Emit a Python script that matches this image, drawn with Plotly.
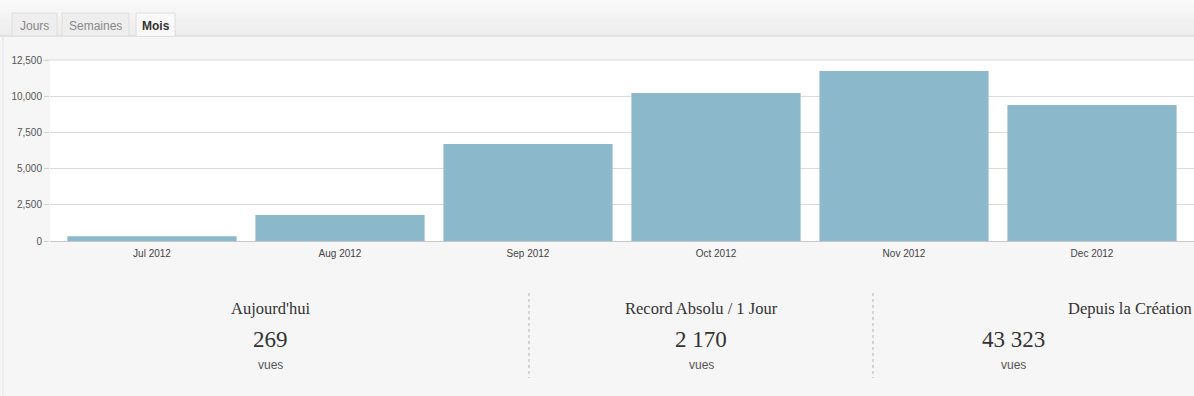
import plotly.graph_objects as go

months = ["Jul 2012", "Aug 2012", "Sep 2012", "Oct 2012", "Nov 2012", "Dec 2012"]
views = [330, 1800, 6700, 10220, 11740, 9390]
y_ticks = [0, 2500, 5000, 7500, 10000, 12500]
y_tick_labels = ["0", "2,500", "5,000", "7,500", "10,000", "12,500"]
tabs = ["Jours", "Semaines", "Mois"]
stat_titles = ["Aujourd'hui", "Record Absolu / 1 Jour", "Depuis la Création"]
stat_values = ["269", "2 170", "43 323"]
stat_unit = "vues"

W, H = 1194, 396
L, R, T, B = 50, 0, 60, 155
PW, PH = W - L - R, H - T - B


def px(x):
    return (x - L) / PW


def py(y):
    return (H - B - y) / PH


fig = go.Figure()
fig.add_trace(go.Bar(
    x=list(range(len(months))), y=views,
    marker=dict(color="#8cb8cc", line=dict(width=0)),
    width=0.9, hoverinfo="skip",
))

shapes = []
# header gradient band
steps = 12
for i in range(steps):
    c = int(250 - (i / (steps - 1)) * 13)
    shapes.append(dict(type="rect", xref="paper", yref="paper",
                       x0=px(0), x1=px(W), y0=py(i * 36 / steps), y1=py((i + 1) * 36 / steps),
                       fillcolor=f"rgb({c},{c},{c})", line=dict(width=0), layer="below"))
shapes.append(dict(type="line", xref="paper", yref="paper", x0=px(0), x1=px(W),
                   y0=py(36), y1=py(36), line=dict(color="#d2d2d2", width=1)))
# left border of panel
shapes.append(dict(type="line", xref="paper", yref="paper", x0=px(3), x1=px(3),
                   y0=py(37), y1=py(H), line=dict(color="#e2e2e2", width=1)))
# top gridline of plot
shapes.append(dict(type="line", xref="paper", yref="paper", x0=px(45), x1=px(W),
                   y0=py(60), y1=py(60), line=dict(color="#d6d6d6", width=1)))
# tabs
tab_boxes = [(12, 57), (62, 129), (136, 175)]
for i, (a, b) in enumerate(tab_boxes):
    active = i == 2
    shapes.append(dict(type="rect", xref="paper", yref="paper",
                       x0=px(a), x1=px(b), y0=py(13), y1=py(36.5 if active else 36),
                       fillcolor="#f9f9f9" if active else "#eeeeee",
                       line=dict(color="#dedede", width=1)))
# dotted dividers
for xd in (529, 873):
    shapes.append(dict(type="line", xref="paper", yref="paper", x0=px(xd), x1=px(xd),
                       y0=py(293), y1=py(378), line=dict(color="#b4b4b4", width=1, dash="dot")))

annotations = []
tab_font_color = ["#888888", "#888888", "#333333"]
for i, (a, b) in enumerate(tab_boxes):
    annotations.append(dict(xref="paper", yref="paper", x=px((a + b) / 2), y=py(25.5),
                            text=("<b>%s</b>" % tabs[i]) if i == 2 else tabs[i],
                            showarrow=False, xanchor="center", yanchor="middle",
                            font=dict(family="Arial, Liberation Sans", size=12,
                                      color=tab_font_color[i])))

centers = [270, 701, 1013]
serif = "Georgia, Liberation Serif, serif"
for i, cx in enumerate(centers):
    if i == 2:
        annotations.append(dict(xref="paper", yref="paper", x=px(1193), y=py(308),
                                text=stat_titles[i], showarrow=False, xanchor="right",
                                yanchor="middle", borderpad=0,
                                font=dict(family=serif, size=16.5, color="#333333")))
    else:
        annotations.append(dict(xref="paper", yref="paper", x=px(cx), y=py(308),
                                text=stat_titles[i], showarrow=False, xanchor="center",
                                yanchor="middle",
                                font=dict(family=serif, size=16.5, color="#333333")))
    annotations.append(dict(xref="paper", yref="paper", x=px(cx), y=py(339),
                            text=stat_values[i], showarrow=False, xanchor="center",
                            yanchor="middle",
                            font=dict(family=serif, size=23, color="#333333")))
    annotations.append(dict(xref="paper", yref="paper", x=px(cx), y=py(365),
                            text=stat_unit, showarrow=False, xanchor="center",
                            yanchor="middle",
                            font=dict(family="Arial, Liberation Sans", size=12,
                                      color="#555555")))

pad = 8 / 188
fig.update_layout(
    width=W, height=H,
    margin=dict(l=L, r=R, t=T, b=B, pad=0),
    paper_bgcolor="#f6f6f6", plot_bgcolor="#ffffff",
    showlegend=False, bargap=0.1,
    shapes=shapes, annotations=annotations,
    xaxis=dict(tickmode="array", tickvals=list(range(len(months))), ticktext=months,
               range=[-0.5 - pad, len(months) - 0.5 + pad], showgrid=False,
               zeroline=False, showline=False, ticks="outside", ticklen=3,
               tickcolor="rgba(0,0,0,0)",
               tickfont=dict(family="Arial, Liberation Sans", size=10, color="#444444"),
               fixedrange=True),
    yaxis=dict(range=[0, 12500], tickmode="array", tickvals=y_ticks, ticktext=y_tick_labels,
               showgrid=True, gridcolor="#dadada", gridwidth=1, zeroline=True,
               zerolinecolor="#c8c8c8", zerolinewidth=1, showline=False,
               ticks="outside", ticklen=5, tickcolor="#d0d0d0",
               tickfont=dict(family="Arial, Liberation Sans", size=10, color="#555555"),
               fixedrange=True),
)

fig.write_html("out.html", config={"displayModeBar": False})
